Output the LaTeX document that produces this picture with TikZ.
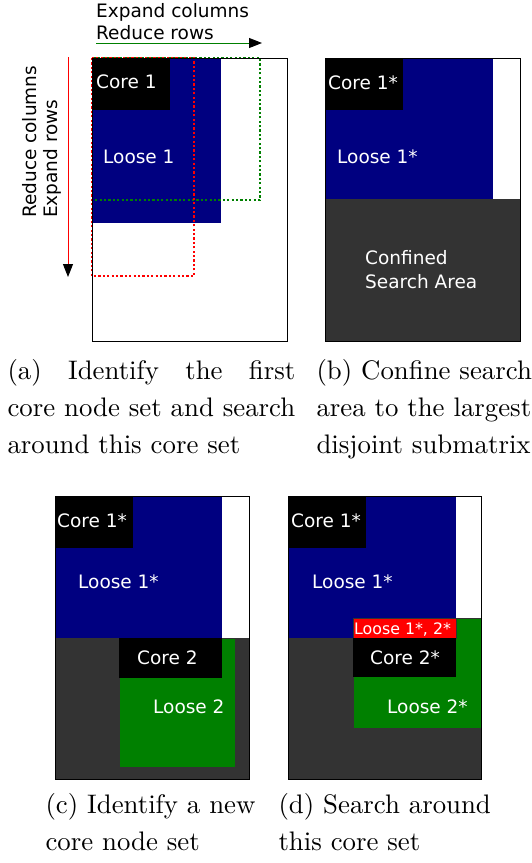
\documentclass[tikz,border=0pt]{standalone}
\usepackage{fontspec}
\newfontfamily\panelfont{DejaVu Sans}
\usetikzlibrary{arrows.meta}
\definecolor{looseblue}{HTML}{000080}
\definecolor{loosegreen}{HTML}{008000}
\definecolor{confgray}{HTML}{333333}
\definecolor{overlapred}{HTML}{FF0000}
\newlength\capw
\begin{document}
\begin{tikzpicture}[x=1pt,y=-1pt,
  panelframe/.style={draw=black, line width=1pt},
  lbl/.style={text=white, font=\panelfont\fontsize{18.5}{22}\selectfont, inner sep=0pt, anchor=west},
  smalllbl/.style={text=white, font=\panelfont\fontsize{15.8}{18}\selectfont, inner sep=0pt, anchor=west},
  axislbl/.style={font=\panelfont\fontsize{18.5}{22}\selectfont, inner sep=0pt, anchor=base west},
  captext/.style={font=\fontsize{10}{12}\selectfont, scale=2.68, inner sep=0pt, anchor=base west},
  probe/.style={line width=1.8pt, dash pattern=on 2.2pt off 2.2pt},
  blacktip/.style={-{Triangle[length=13pt,width=10pt,color=black]}}]
\useasboundingbox (0,0) rectangle (531,863);

% ---------- panel (a): first core set and its search directions
\fill[looseblue] (92,58) rectangle (221,223);
\fill[black] (92,58) rectangle (170,110);
\draw[probe, loosegreen] (92,58) rectangle (260,200);
\draw[probe, overlapred] (92,58) rectangle (194,276);
\draw[panelframe] (92,58) rectangle (287,341);
\node[lbl] (a-core) at (96,82) {Core 1};
\node[lbl] (a-loose) at (103,157) {Loose 1};

\node[axislbl] (expcol) at (96,17) {Expand columns};
\node[axislbl] (redrow) at (96,39) {Reduce rows};
\node[axislbl, rotate=90] (redcol) at (36.5,218) {Reduce columns};
\node[axislbl, rotate=90] (exprow) at (57,218) {Expand rows};
\coordinate (hstart) at (96,43);
\coordinate (hend) at (262,43);
\coordinate (vstart) at (68,57);
\coordinate (vend) at (68,277);
\draw[loosegreen, line width=1pt, blacktip] (hstart) -- (hend);
\draw[overlapred, line width=1pt, blacktip] (vstart) -- (vend);

% ---------- panel (b): confined search area
\fill[looseblue] (325,58) rectangle (493,199);
\fill[black] (325,58) rectangle (403,110);
\fill[confgray] (325,199) rectangle (520,341);
\draw[panelframe] (325,58) rectangle (520,341);
\node[lbl] (b-core) at (328,83) {Core 1*};
\node[lbl] (b-loose) at (337,157) {Loose 1*};
\node[lbl] (b-conf1) at (365,258) {Confined};
\node[lbl] (b-conf2) at (365,282) {Search Area};

% ---------- panel (c): a new core set
\fill[confgray] (55,638) rectangle (249,779);
\fill[looseblue] (55,496) rectangle (222,638);
\fill[black] (55,496) rectangle (133,548);
\filldraw[fill=loosegreen, draw=black!80, line width=0.8pt] (119,638) rectangle (235,767);
\fill[black] (119,638) rectangle (222,678);
\draw[panelframe] (55,496) rectangle (249,779);
\node[lbl] (c-core1) at (57,521) {Core 1*};
\node[lbl] (c-loose1) at (78,582) {Loose 1*};
\node[lbl] (c-core2) at (137,658) {Core 2};
\node[lbl] (c-loose2) at (153,707) {Loose 2};

% ---------- panel (d): search around the new core set
\fill[confgray] (288,638) rectangle (481,779);
\fill[looseblue] (288,496) rectangle (456,638);
\fill[black] (288,496) rectangle (366,548);
\filldraw[fill=loosegreen, draw=black!80, line width=0.8pt] (353,618) rectangle (481,728);
\filldraw[fill=overlapred, draw=black!80, line width=0.8pt] (353,618) rectangle (456,638);
\fill[black] (353,638) rectangle (456,677);
\draw[panelframe] (288,496) rectangle (481,779);
\node[lbl] (d-core1) at (291,521) {Core 1*};
\node[lbl] (d-loose1) at (312,582) {Loose 1*};
\node[smalllbl] (d-overlap) at (354,630) {Loose 1*, 2*};
\node[lbl] (d-core2) at (370,658) {Core 2*};
\node[lbl] (d-loose2) at (387,707) {Loose 2*};

% ---------- captions
\node[captext] (capa1) at (7,379) {\settowidth{\capw}{core node set and search}\makebox[\capw][s]{(a) Identify the first}};
\node[captext] (capa2) at (7,416) {core node set and search};
\node[captext] (capa3) at (7,453) {around this core set};
\node[captext] (capb1) at (316,379) {(b) Confine search};
\node[captext] (capb2) at (316,416) {area to the largest};
\node[captext] (capb3) at (316,453) {disjoint submatrix};
\node[captext] (capc1) at (45,813) {(c) Identify a new};
\node[captext] (capc2) at (45,850) {core node set};
\node[captext] (capd1) at (278,813) {(d) Search around};
\node[captext] (capd2) at (278,850) {this core set};
\end{tikzpicture}
\end{document}
